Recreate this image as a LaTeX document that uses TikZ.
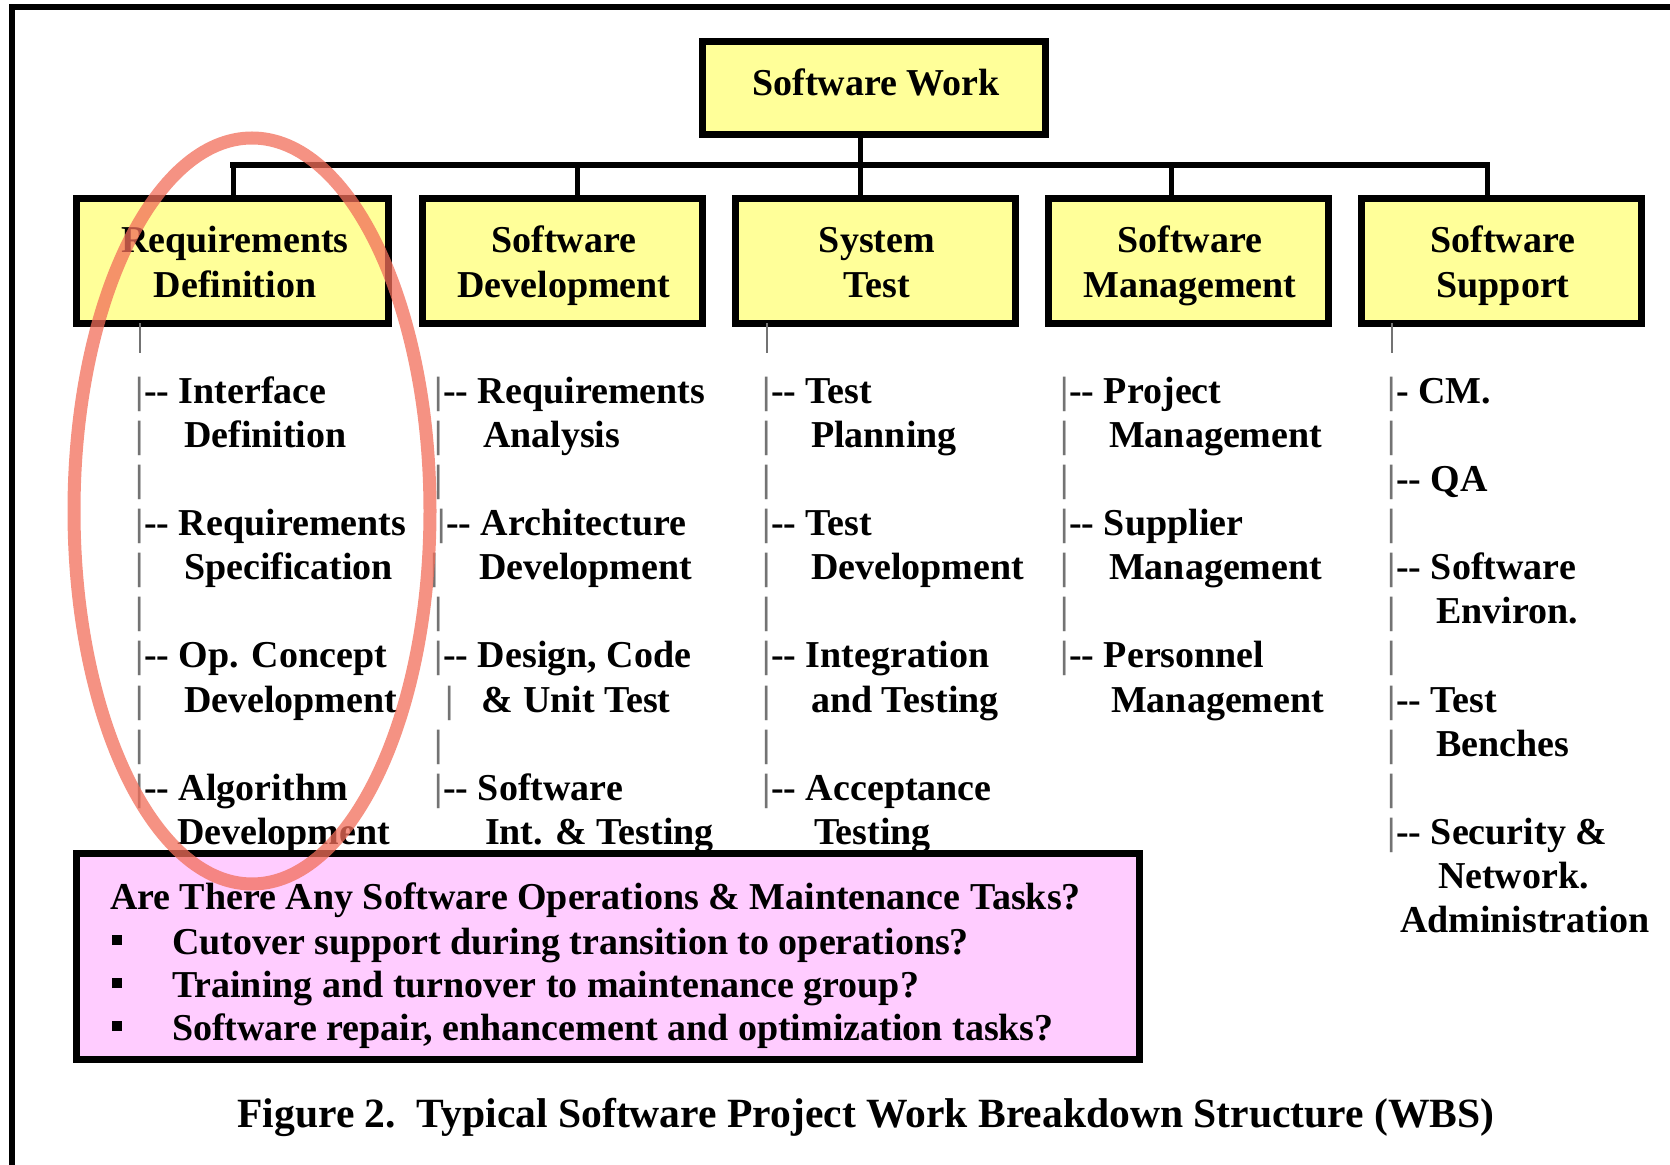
\documentclass[tikz,border=0pt]{standalone}
\usepackage{fontspec}
\setmainfont{Liberation Serif}[Ligatures=TeXOff]
\usetikzlibrary{calc}
\definecolor{boxyellow}{HTML}{FFFF99}
\definecolor{boxpink}{HTML}{FFCCFF}
\definecolor{ringred}{RGB}{242,110,90}
\definecolor{bargray}{gray}{0.45}
\newcommand\vb{\textcolor{bargray}{|}}
\newcommand\wl[4]{\node[wline] (#1) at (#2,#3) {#4};}
\begin{document}
\begin{tikzpicture}[x=0.5pt,y=-0.5pt,
  every node/.style={font=\fontsize{19}{22.5}\selectfont\bfseries, inner sep=0pt, outer sep=0pt},
  wbox/.style={draw=black, line width=3.5pt, fill=boxyellow, minimum height=62.5pt, minimum width=140pt},
  wline/.style={anchor=base west, yshift=-1pt},
  wlabel/.style={anchor=base, yshift=-0.5pt},
  bus/.style={line width=3pt, line cap=rect},
  drop/.style={line width=2.5pt},
  stub/.style={bargray, line width=1.2pt},
  frame/.style={line width=3pt},
  ring/.style={ringred, line width=6.5pt, opacity=0.75},
]
\useasboundingbox (0,0) rectangle (1670,1165);
% page frame
\draw[frame] (12,1165) -- (12,7) -- (1670,7);

% boxes
\node[wbox, minimum width=171.5pt, minimum height=46.5pt] (root) at (874,88) {};
\node[wbox, minimum width=156pt] (b1) at (232.5,261) {};
\node[wbox] (b2) at (562,261) {};
\node[wbox] (b3) at (875,261) {};
\node[wbox] (b4) at (1188.5,261) {};
\node[wbox] (b5) at (1501,261) {};

% box texts
\node[wlabel] (root-t) at (876,95) {Software Work};
\node[wlabel] (b1-t1) at (235,252) {Requirements};
\node[wlabel] (b1-t2) at (235,297) {Definition};
\node[wlabel] (b2-t1) at (564,252) {Software};
\node[wlabel] (b2-t2) at (564,297) {Development};
\node[wlabel] (b3-t1) at (877,252) {System};
\node[wlabel] (b3-t2) at (877,297) {Test};
\node[wlabel] (b4-t1) at (1190,252) {Software};
\node[wlabel] (b4-t2) at (1190,297) {Management};
\node[wlabel] (b5-t1) at (1503,252) {Software};
\node[wlabel] (b5-t2) at (1503,297) {Support};

% tree connectors
\coordinate (j1) at (233,165);
\coordinate (j2) at (577,165);
\coordinate (jr) at (860,165);
\coordinate (j4) at (1171,165);
\coordinate (j5) at (1487,165);
\draw[bus] (j1) -- (j5);
\draw[drop] (jr) -- (jr |- root.south);
\draw[drop] (j1) -- (j1 |- b1.north);
\draw[drop] (j2) -- (j2 |- b2.north);
\draw[drop] (jr) -- (jr |- b3.north);
\draw[drop] (j4) -- (j4 |- b4.north);
\draw[drop] (j5) -- (j5 |- b5.north);

% short stubs under boxes 1, 3, 5
\coordinate (s1) at (140,353);
\coordinate (s3) at (767,353);
\coordinate (s5) at (1392,353);
\draw[stub] (b1.south -| s1) -- (s1);
\draw[stub] (b3.south -| s3) -- (s3);
\draw[stub] (b5.south -| s5) -- (s5);

% column 1
\wl{ra1}{135.8}{402}{\vb-- Interface}
\wl{ra2}{135.8}{446}{\vb\hspace{1.05em}Definition}
\wl{ra3}{135.8}{490}{\vb}
\wl{ra4}{135.8}{534}{\vb-- Requirements}
\wl{ra5}{135.8}{578}{\vb\hspace{1.05em}Specification}
\wl{ra6}{135.8}{622}{\vb}
\wl{ra7}{135.8}{666}{\vb-- Op. Concept}
\wl{ra8}{135.8}{710}{\vb\hspace{1.05em}Development}
\wl{ra9}{135.8}{754}{\vb}
\wl{ra10}{135.8}{798}{\vb-- Algorithm}
\wl{ra11}{177}{842}{Development}

% column 2
\wl{rb1}{434.8}{402}{\vb-- Requirements}
\wl{rb2}{434.8}{446}{\vb\hspace{1.05em}Analysis}
\wl{rb3}{434.8}{490}{\vb}
\wl{rb4}{437.8}{534}{\vb-- Architecture}
\wl{rb5}{430.8}{578}{\vb\hspace{1.05em}Development}
\wl{rb6}{434.8}{622}{\vb}
\wl{rb7}{434.8}{666}{\vb-- Design, Code}
\wl{rb8}{445.8}{710}{\vb\hspace{0.73em}\& Unit Test}
\wl{rb9}{434.8}{754}{\vb}
\wl{rb10}{434.8}{798}{\vb-- Software}
\wl{rb11}{485}{842}{Int. \& Testing}

% column 3
\wl{rc1}{762.8}{402}{\vb-- Test}
\wl{rc2}{762.8}{446}{\vb\hspace{1.05em}Planning}
\wl{rc3}{762.8}{490}{\vb}
\wl{rc4}{762.8}{534}{\vb-- Test}
\wl{rc5}{762.8}{578}{\vb\hspace{1.05em}Development}
\wl{rc6}{762.8}{622}{\vb}
\wl{rc7}{762.8}{666}{\vb-- Integration}
\wl{rc8}{762.8}{710}{\vb\hspace{1.05em}and Testing}
\wl{rc9}{762.8}{754}{\vb}
\wl{rc10}{762.8}{798}{\vb-- Acceptance}
\wl{rc11}{814}{842}{Testing}

% column 4
\wl{rd1}{1060.8}{402}{\vb-- Project}
\wl{rd2}{1060.8}{446}{\vb\hspace{1.05em}Management}
\wl{rd3}{1060.8}{490}{\vb}
\wl{rd4}{1060.8}{534}{\vb-- Supplier}
\wl{rd5}{1060.8}{578}{\vb\hspace{1.05em}Management}
\wl{rd6}{1060.8}{622}{\vb}
\wl{rd7}{1060.8}{666}{\vb-- Personnel}
\wl{rd8}{1111}{710}{Management}

% column 5
\wl{re1}{1387.8}{402}{\vb- CM.}
\wl{re2}{1387.8}{446}{\vb}
\wl{re3}{1387.8}{490}{\vb-- QA}
\wl{re4}{1387.8}{534}{\vb}
\wl{re5}{1387.8}{578}{\vb-- Software}
\wl{re6}{1387.8}{622}{\vb\hspace{1.05em}Environ.}
\wl{re7}{1387.8}{666}{\vb}
\wl{re8}{1387.8}{710}{\vb-- Test}
\wl{re9}{1387.8}{754}{\vb\hspace{1.05em}Benches}
\wl{re10}{1387.8}{798}{\vb}
\wl{re11}{1387.8}{842}{\vb-- Security \&}
\wl{re12}{1438}{886}{Network.}
\wl{re13}{1400}{930}{Administration}

% O&M question box
\node[draw=black, line width=3.5pt, fill=boxpink, minimum width=531.5pt, minimum height=103pt] (om) at (608,956.5) {};
\wl{om0}{110}{907}{Are There Any Software Operations \& Maintenance Tasks?}
\wl{om1}{112}{952}{\rule[4.5pt]{5pt}{5pt}\hspace{25pt}Cutover support during transition to operations?}
\wl{om2}{112}{995}{\rule[4.5pt]{5pt}{5pt}\hspace{25pt}Training and turnover to maintenance group?}
\wl{om3}{112}{1038}{\rule[4.5pt]{5pt}{5pt}\hspace{25pt}Software repair, enhancement and optimization tasks?}

% caption
\node[wlabel, font=\fontsize{20.8}{24}\selectfont\bfseries] (cap) at (866,1126) {Figure 2.\ \ Typical Software Project Work Breakdown Structure (WBS)};

% red highlight ring
\draw[ring] (252,511) ellipse [x radius=178, y radius=373];
\end{tikzpicture}
\end{document}
